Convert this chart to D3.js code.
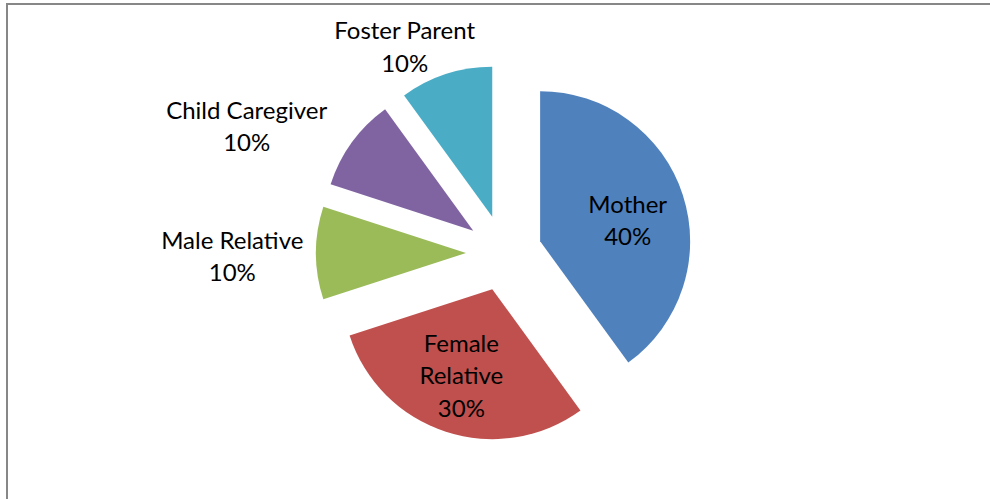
<!DOCTYPE html>
<html>
<head>
<meta charset="utf-8">
<script src="https://cdnjs.cloudflare.com/ajax/libs/d3/7.8.5/d3.min.js"></script>
<style>
  body { margin: 0; background: #fff; }
  text { font-family: Lato, "Open Sans", sans-serif; fill: #000; }
</style>
</head>
<body>
<div id="chart"></div>
<script>
// data
var categories = ["Mother", "Female Relative", "Male Relative", "Child Caregiver", "Foster Parent"];
var shares = [40, 30, 10, 10, 10];
var labelLines = [["Mother"], ["Female", "Relative"], ["Male Relative"], ["Child Caregiver"], ["Foster Parent"]];
var colors = ["#4F81BD", "#C0504D", "#9BBB59", "#8064A2", "#4BACC6"];

// where each label sits: angle (deg, clockwise from top) and distance from pie centre
var labelAngle = [79, 198, 267.5, 294.6, 333.3];
var labelDist = [126, 138, 272, 283, 221];

var w = 990, h = 499;
var cx = 504, cy = 253;
var radius = 150, explode = 38;
var fontSize = 24, lineH = 32.5;

var svg = d3.select("#chart")
    .append("svg")
    .attr("width", w)
    .attr("height", h);

// chart frame (right/bottom edges run off the page)
svg.append("rect")
    .attr("x", 7).attr("y", 4)
    .attr("width", 1200).attr("height", 800)
    .attr("fill", "none")
    .attr("stroke", "#878787")
    .attr("stroke-width", 2);

var pie = d3.pie().sort(null).value(function (d) { return d; });
var arcs = pie(shares);
var arc = d3.arc().innerRadius(0).outerRadius(radius);

var g = svg.append("g").attr("transform", "translate(" + cx + "," + cy + ")");

g.selectAll("path")
    .data(arcs)
    .enter().append("path")
    .attr("d", arc)
    .attr("fill", function (d, i) { return colors[i]; })
    .attr("transform", function (d) {
        var mid = (d.startAngle + d.endAngle) / 2;
        return "translate(" + (explode * Math.sin(mid)) + "," + (-explode * Math.cos(mid)) + ")";
    });

var labels = g.selectAll("g.lbl")
    .data(arcs)
    .enter().append("g")
    .attr("class", "lbl")
    .attr("transform", function (d, i) {
        var a = labelAngle[i] * Math.PI / 180;
        return "translate(" + (labelDist[i] * Math.sin(a)) + "," + (-labelDist[i] * Math.cos(a)) + ")";
    });

labels.each(function (d, i) {
    var lines = labelLines[i].concat([shares[i] + "%"]);
    var n = lines.length;
    d3.select(this).selectAll("text")
        .data(lines)
        .enter().append("text")
        .attr("text-anchor", "middle")
        .attr("font-size", fontSize)
        .attr("y", function (t, j) { return (j - (n - 1) / 2) * lineH; })
        .text(function (t) { return t; });
});
</script>
</body>
</html>
